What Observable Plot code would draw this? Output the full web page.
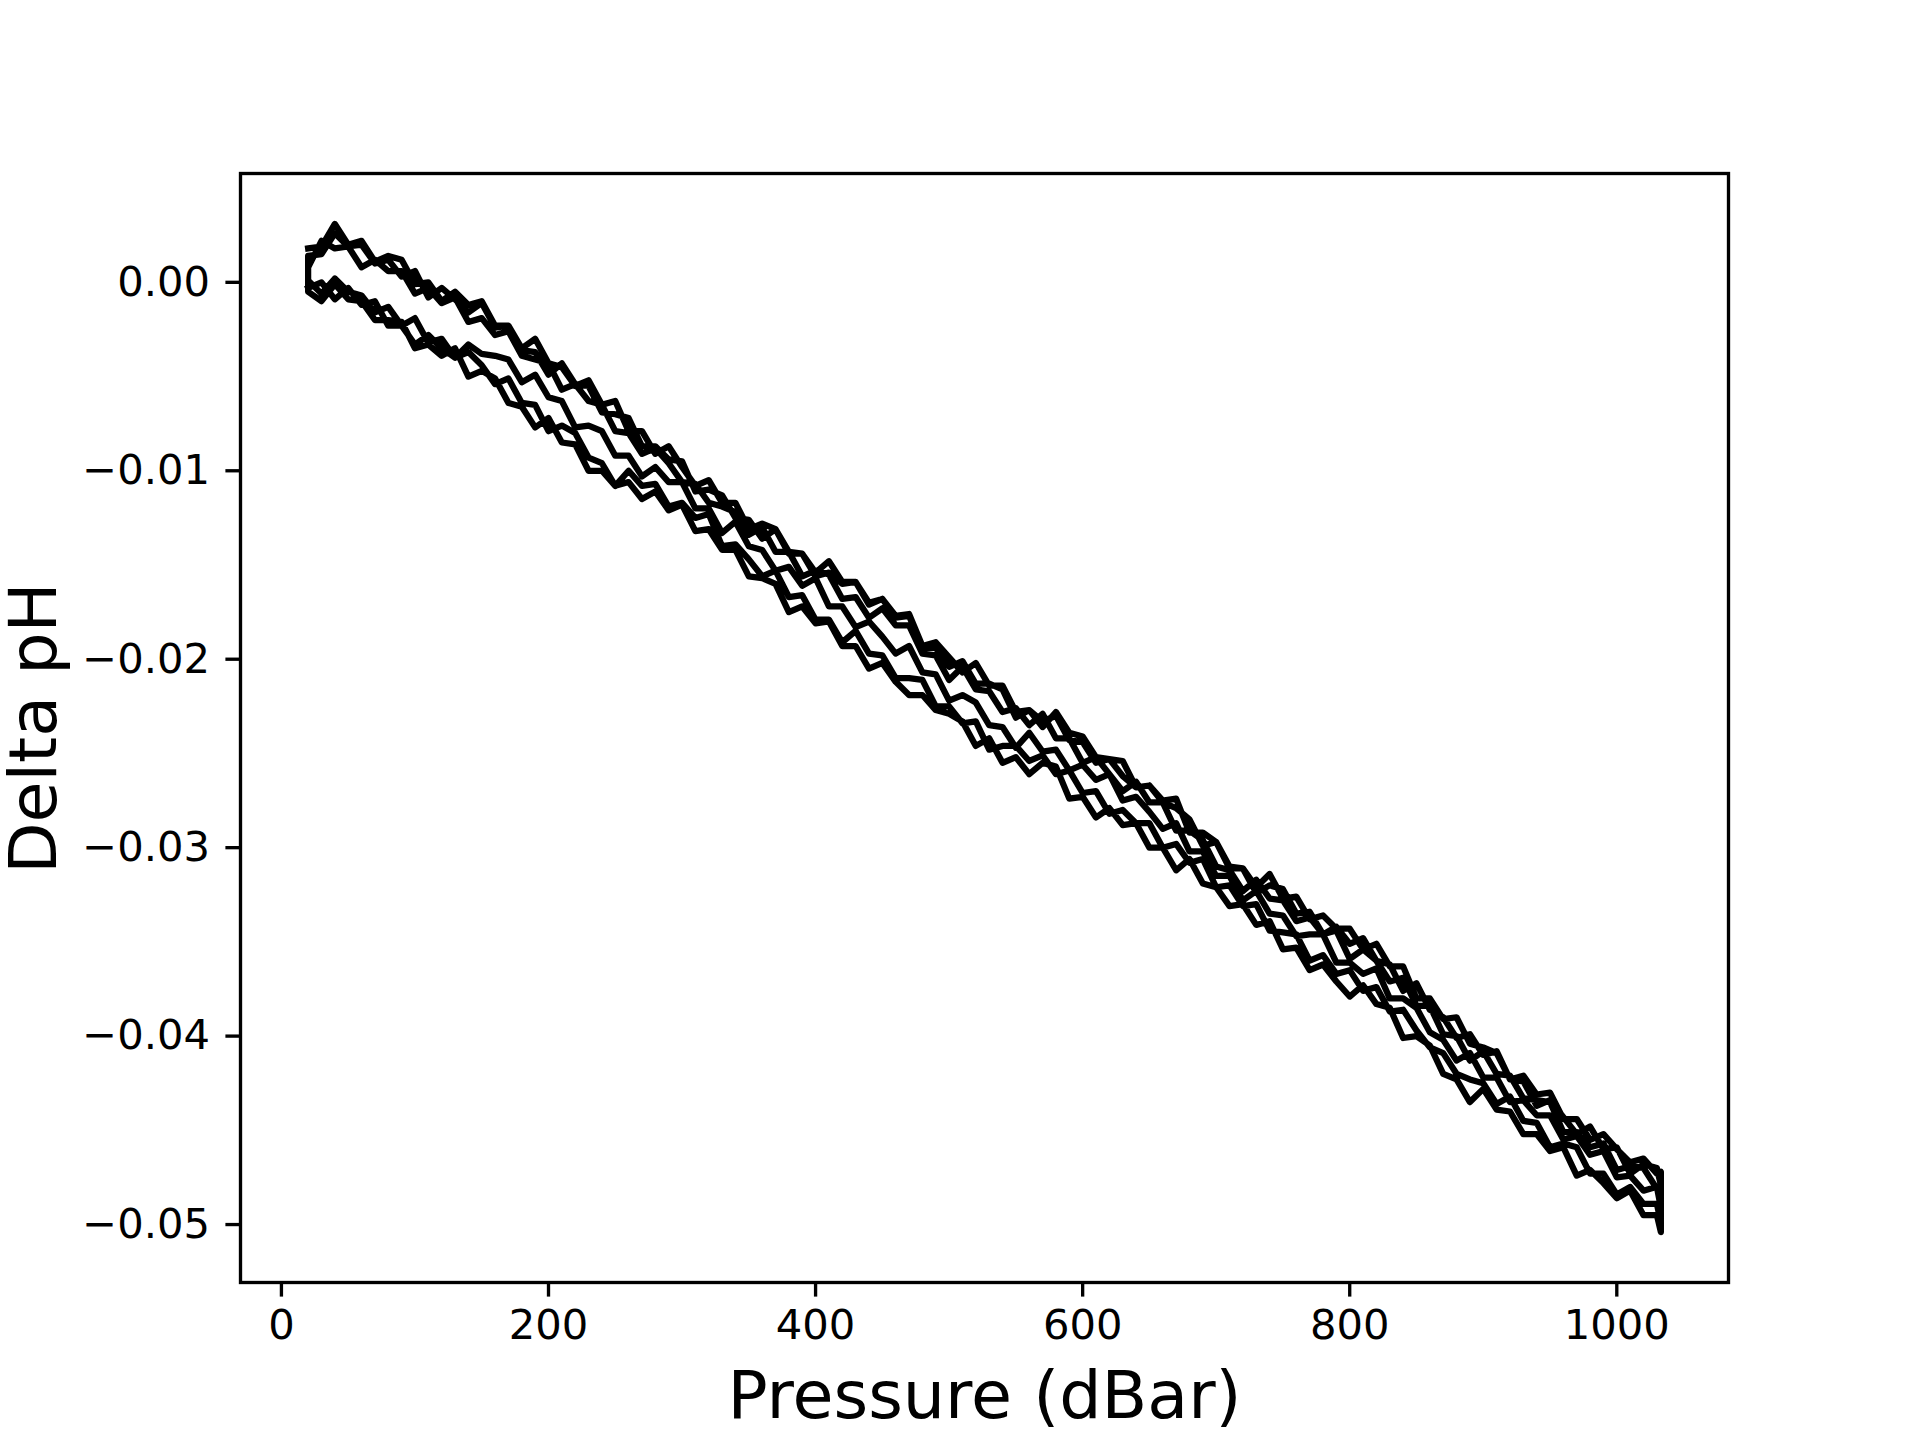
<!DOCTYPE html>
<html>
<head>
<meta charset="utf-8">
<script src="https://cdn.jsdelivr.net/npm/d3@7"></script>
<script src="https://cdn.jsdelivr.net/npm/@observablehq/plot@0.6"></script>
<style>
  html, body { margin: 0; padding: 0; background: #fff; overflow: hidden; }
  #chart svg { display: block; }
</style>
</head>
<body>
<div id="chart"></div>
<script>
// Pressure grid (dBar)
const pressure = [20,30,40,50,60,70,80,90,100,110,120,130,140,150,160,170,180,190,200,210,220,230,240,250,260,270,280,290,300,310,320,330,340,350,360,370,380,390,400,410,420,430,440,450,460,470,480,490,500,510,520,530,540,550,560,570,580,590,600,610,620,630,640,650,660,670,680,690,700,710,720,730,740,750,760,770,780,790,800,810,820,830,840,850,860,870,880,890,900,910,920,930,940,950,960,970,980,990,1000,1010,1020,1030,1033];

// Delta pH, downcasts (upper band)
const down1 = [0.0018,0.0019,0.0031,0.0020,0.0022,0.0011,0.0014,0.0012,-0.0001,0.0000,
-0.0010,-0.0005,-0.0012,-0.0010,-0.0023,-0.0023,-0.0035,-0.0030,-0.0043,-0.0045,
-0.0055,-0.0052,-0.0065,-0.0063,-0.0079,-0.0079,-0.0091,-0.0087,-0.0098,-0.0108,
-0.0105,-0.0117,-0.0117,-0.0131,-0.0128,-0.0131,-0.0143,-0.0144,-0.0154,-0.0148,
-0.0159,-0.0159,-0.0170,-0.0168,-0.0177,-0.0176,-0.0193,-0.0191,-0.0199,-0.0207,
-0.0202,-0.0214,-0.0214,-0.0228,-0.0227,-0.0236,-0.0228,-0.0239,-0.0241,-0.0252,
-0.0253,-0.0254,-0.0268,-0.0267,-0.0275,-0.0274,-0.0292,-0.0292,-0.0297,-0.0310,
-0.0311,-0.0321,-0.0314,-0.0327,-0.0326,-0.0338,-0.0336,-0.0343,-0.0343,-0.0354,
-0.0351,-0.0363,-0.0363,-0.0380,-0.0380,-0.0391,-0.0390,-0.0404,-0.0406,-0.0409,
-0.0423,-0.0421,-0.0431,-0.0430,-0.0444,-0.0444,-0.0455,-0.0452,-0.0460,-0.0467,
-0.0465,-0.0473,-0.0472];
const down2 = [0.0014,0.0015,0.0026,0.0019,0.0020,0.0010,0.0012,0.0003,0.0006,-0.0008,
-0.0003,-0.0009,-0.0016,-0.0011,-0.0024,-0.0023,-0.0036,-0.0037,-0.0049,-0.0043,
-0.0054,-0.0055,-0.0069,-0.0070,-0.0072,-0.0087,-0.0087,-0.0094,-0.0095,-0.0111,
-0.0110,-0.0113,-0.0125,-0.0126,-0.0136,-0.0131,-0.0144,-0.0144,-0.0156,-0.0154,
-0.0160,-0.0159,-0.0171,-0.0168,-0.0178,-0.0177,-0.0194,-0.0194,-0.0204,-0.0201,
-0.0213,-0.0213,-0.0216,-0.0231,-0.0227,-0.0233,-0.0230,-0.0243,-0.0244,-0.0255,
-0.0253,-0.0262,-0.0268,-0.0267,-0.0276,-0.0279,-0.0285,-0.0299,-0.0297,-0.0311,
-0.0311,-0.0324,-0.0320,-0.0322,-0.0335,-0.0334,-0.0346,-0.0342,-0.0351,-0.0348,
-0.0360,-0.0362,-0.0376,-0.0372,-0.0386,-0.0390,-0.0401,-0.0399,-0.0410,-0.0408,
-0.0423,-0.0424,-0.0437,-0.0434,-0.0443,-0.0452,-0.0448,-0.0460,-0.0459,-0.0473,
-0.0468,-0.0470,-0.0479];
const down3 = [0.0008,0.0022,0.0018,0.0019,0.0008,0.0012,0.0006,0.0006,-0.0006,-0.0003,
-0.0011,-0.0008,-0.0021,-0.0019,-0.0028,-0.0026,-0.0039,-0.0041,-0.0043,-0.0057,
-0.0054,-0.0063,-0.0065,-0.0079,-0.0080,-0.0091,-0.0088,-0.0096,-0.0106,-0.0107,
-0.0117,-0.0119,-0.0122,-0.0134,-0.0130,-0.0143,-0.0143,-0.0156,-0.0153,-0.0155,
-0.0168,-0.0167,-0.0178,-0.0173,-0.0182,-0.0182,-0.0197,-0.0198,-0.0211,-0.0204,
-0.0216,-0.0217,-0.0228,-0.0226,-0.0235,-0.0229,-0.0242,-0.0242,-0.0255,-0.0252,
-0.0261,-0.0270,-0.0265,-0.0276,-0.0276,-0.0291,-0.0291,-0.0296,-0.0310,-0.0312,
-0.0323,-0.0317,-0.0327,-0.0328,-0.0339,-0.0337,-0.0346,-0.0344,-0.0359,-0.0354,
-0.0360,-0.0371,-0.0369,-0.0384,-0.0384,-0.0399,-0.0400,-0.0413,-0.0408,-0.0420,
-0.0421,-0.0433,-0.0434,-0.0435,-0.0451,-0.0451,-0.0459,-0.0457,-0.0471,-0.0469,
-0.0470,-0.0481,-0.0479];

// Delta pH, upcasts (lower band), listed by increasing pressure
const up1 = [0.0001,-0.0006,0.0002,-0.0005,-0.0007,-0.0016,-0.0013,-0.0023,-0.0019,-0.0032,
-0.0030,-0.0040,-0.0037,-0.0044,-0.0054,-0.0051,-0.0064,-0.0065,-0.0079,-0.0076,
-0.0080,-0.0093,-0.0096,-0.0108,-0.0100,-0.0108,-0.0107,-0.0119,-0.0117,-0.0125,
-0.0123,-0.0140,-0.0139,-0.0147,-0.0156,-0.0153,-0.0167,-0.0166,-0.0179,-0.0179,
-0.0191,-0.0185,-0.0197,-0.0198,-0.0210,-0.0210,-0.0211,-0.0225,-0.0225,-0.0234,
-0.0233,-0.0248,-0.0246,-0.0246,-0.0254,-0.0251,-0.0261,-0.0259,-0.0271,-0.0270,
-0.0282,-0.0280,-0.0287,-0.0287,-0.0300,-0.0298,-0.0308,-0.0306,-0.0321,-0.0320,
-0.0331,-0.0330,-0.0344,-0.0345,-0.0346,-0.0360,-0.0357,-0.0367,-0.0365,-0.0376,
-0.0374,-0.0387,-0.0386,-0.0397,-0.0406,-0.0409,-0.0420,-0.0423,-0.0425,-0.0436,
-0.0432,-0.0445,-0.0446,-0.0459,-0.0457,-0.0459,-0.0473,-0.0473,-0.0484,-0.0480,
-0.0489,-0.0489,-0.0499];
const up2 = [-0.0005,-0.0010,-0.0001,-0.0009,-0.0010,-0.0020,-0.0020,-0.0021,-0.0035,-0.0033,
-0.0039,-0.0035,-0.0050,-0.0047,-0.0051,-0.0064,-0.0066,-0.0077,-0.0072,-0.0085,
-0.0086,-0.0100,-0.0100,-0.0108,-0.0106,-0.0115,-0.0111,-0.0121,-0.0118,-0.0132,
-0.0131,-0.0142,-0.0142,-0.0156,-0.0157,-0.0160,-0.0175,-0.0172,-0.0181,-0.0180,
-0.0193,-0.0193,-0.0205,-0.0202,-0.0212,-0.0219,-0.0219,-0.0227,-0.0229,-0.0233,
-0.0246,-0.0242,-0.0255,-0.0252,-0.0261,-0.0255,-0.0257,-0.0274,-0.0273,-0.0284,
-0.0279,-0.0288,-0.0287,-0.0300,-0.0300,-0.0312,-0.0306,-0.0319,-0.0321,-0.0331,
-0.0330,-0.0341,-0.0339,-0.0354,-0.0353,-0.0365,-0.0362,-0.0371,-0.0379,-0.0373,
-0.0383,-0.0385,-0.0401,-0.0400,-0.0405,-0.0420,-0.0423,-0.0435,-0.0428,-0.0439,
-0.0440,-0.0452,-0.0452,-0.0461,-0.0459,-0.0474,-0.0471,-0.0478,-0.0486,-0.0482,
-0.0495,-0.0495,-0.0504];
const up3 = [-0.0003,0.0000,-0.0009,-0.0003,-0.0012,-0.0010,-0.0023,-0.0023,-0.0033,-0.0028,
-0.0035,-0.0040,-0.0033,-0.0038,-0.0039,-0.0041,-0.0053,-0.0049,-0.0061,-0.0063,
-0.0077,-0.0076,-0.0079,-0.0092,-0.0092,-0.0103,-0.0098,-0.0106,-0.0106,-0.0120,
-0.0120,-0.0133,-0.0127,-0.0140,-0.0142,-0.0153,-0.0151,-0.0161,-0.0157,-0.0172,
-0.0172,-0.0183,-0.0180,-0.0188,-0.0197,-0.0193,-0.0207,-0.0208,-0.0222,-0.0219,
-0.0223,-0.0235,-0.0236,-0.0247,-0.0239,-0.0249,-0.0248,-0.0259,-0.0256,-0.0264,
-0.0261,-0.0275,-0.0273,-0.0281,-0.0290,-0.0287,-0.0302,-0.0302,-0.0315,-0.0315,
-0.0328,-0.0323,-0.0335,-0.0336,-0.0347,-0.0346,-0.0346,-0.0361,-0.0361,-0.0367,
-0.0364,-0.0380,-0.0380,-0.0385,-0.0398,-0.0402,-0.0413,-0.0409,-0.0422,-0.0422,
-0.0435,-0.0434,-0.0442,-0.0442,-0.0455,-0.0453,-0.0463,-0.0461,-0.0475,-0.0474,
-0.0482,-0.0480,-0.0491];

const xTicks = [0, 200, 400, 600, 800, 1000];
const yTicks = [0, -0.01, -0.02, -0.03, -0.04, -0.05];
const xLabel = "Pressure (dBar)";
const yLabel = "Delta pH";

// One continuous trace: down, up, down, up, ...
const casts = [[down1, up1], [down2, up2], [down3, up3]];
const rows = [];
casts.forEach(([dn, up]) => {
  dn.forEach((v, i) => rows.push({p: pressure[i], v}));
  for (let i = up.length - 1; i >= 0; i--) rows.push({p: pressure[i], v: up[i]});
});

const FONT = "DejaVu Sans";
const tickFs = 41.67;
const labelFs = 66.67;

const chart = Plot.plot({
  width: 1920,
  height: 1440,
  marginLeft: 240,
  marginRight: 192,
  marginTop: 173,
  marginBottom: 158,
  style: {fontFamily: FONT, background: "#fff", color: "#000"},
  x: {domain: [-30.65, 1083.65]},
  y: {domain: [-0.053075, 0.005775]},
  marks: [
    Plot.line(rows, {x: "p", y: "v", stroke: "#000", strokeWidth: 6.25, strokeLinejoin: "round", strokeLinecap: "square"}),
    Plot.frame({stroke: "#000", strokeWidth: 3.33}),
    Plot.axisX({anchor: "bottom", ticks: xTicks, tickSize: 14.6, tickPadding: 12, strokeWidth: 3.33, fontSize: tickFs, tickFormat: d3.format("d"), label: null}),
    Plot.axisY({anchor: "left", ticks: yTicks, tickSize: 14.6, tickPadding: 16, strokeWidth: 3.33, fontSize: tickFs, tickFormat: d3.format(".2f"), label: null}),
    Plot.text([xLabel], {frameAnchor: "bottom", text: d => d, dy: 135, lineAnchor: "bottom", fontSize: labelFs, fill: "#000"}),
    Plot.text([yLabel], {frameAnchor: "left", text: d => d, dx: -185, rotate: -90, lineAnchor: "bottom", textAnchor: "middle", fontSize: labelFs, fill: "#000"})
  ]
});
document.getElementById("chart").appendChild(chart);
</script>
</body>
</html>
